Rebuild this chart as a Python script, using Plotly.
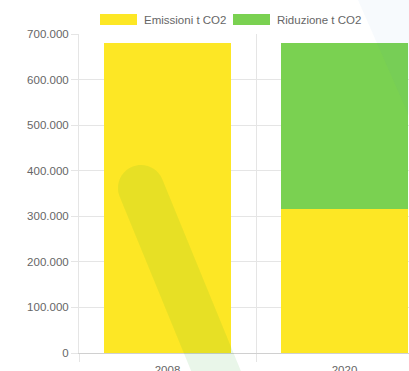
import numpy as np
import plotly.graph_objects as go

categories = ["2008", "2020"]
emissioni = [680000, 315000]
riduzione = [0, 365000]
series_names = ["Emissioni t CO2", "Riduzione t CO2"]
y_ticks = [0, 100000, 200000, 300000, 400000, 500000, 600000, 700000]

YELLOW = "#fde725"
GREEN = "#7ad151"
GRID = "#e5e5e5"
FONT = "Liberation Sans, Arial, sans-serif"

W, H = 409, 371
L, R, T, B = 79, 409, 34, 353  # plot area in pixels

fig = go.Figure()
fig.add_trace(go.Bar(x=categories, y=emissioni, name=series_names[0],
                     marker=dict(color=YELLOW, line=dict(width=0)), showlegend=False))
fig.add_trace(go.Bar(x=categories, y=riduzione, name=series_names[1],
                     marker=dict(color=GREEN, line=dict(width=0)), showlegend=False))

def px(x):
    return (x - L) / (R - L)

def py(y):
    return (B - y) / (B - T)

# decorative background watermark: rounded thick stroke
C = np.array([141.0, 188.0])
r = 23.0
d = np.array([0.41, 1.0]); d /= np.linalg.norm(d)
n = np.array([d[1], -d[0]])
E = C + d * ((440 - C[1]) / d[1])
k = 0.5523 * r
P0 = C - r * n
P1 = C - r * d
P2 = C + r * n
c1 = P0 - k * d
c2 = P1 - k * n
c3 = P1 + k * n
c4 = P2 - k * d
Q1 = E + r * n
Q2 = E - r * n

def pt(p):
    return f"{px(p[0]):.5f},{py(p[1]):.5f}"

path = (f"M {pt(P0)} C {pt(c1)} {pt(c2)} {pt(P1)} C {pt(c3)} {pt(c4)} {pt(P2)} "
        f"L {pt(Q1)} L {pt(Q2)} Z")

shapes = [
    dict(type="path", path=path, xref="paper", yref="paper",
         fillcolor="rgba(40,170,40,0.10)", line=dict(width=0), layer="above"),
    dict(type="path",
         path=f"M {pt((358,0))} L {pt((420,0))} L {pt((420,0 + (420-358)/0.44))} Z",
         xref="paper", yref="paper",
         fillcolor="rgba(60,130,220,0.045)", line=dict(width=0), layer="above"),
]

# custom legend (Chart.js-style wide boxes)
legend_items = [(100, YELLOW, series_names[0]), (233, GREEN, series_names[1])]
annotations = []
for x0, col, name in legend_items:
    shapes.append(dict(type="rect", xref="paper", yref="paper",
                       x0=px(x0), x1=px(x0 + 37), y0=py(25), y1=py(14),
                       fillcolor=col, line=dict(width=0)))
    annotations.append(dict(x=px(x0 + 42), y=py(19.5), xref="paper", yref="paper",
                            text=name, showarrow=False, xanchor="left", yanchor="middle",
                            font=dict(family=FONT, size=11.5, color="#666666")))

fig.update_layout(
    width=W, height=H,
    margin=dict(l=L, r=W - R, t=T, b=H - B, autoexpand=False),
    barmode="stack", bargap=0.28,
    paper_bgcolor="white", plot_bgcolor="white",
    separators=",.",
    font=dict(family=FONT, size=12, color="#666666"),
    shapes=shapes, annotations=annotations,
    showlegend=False,
    xaxis=dict(type="category", range=[-0.5, -0.5 + (R - L) / 177.0],
               tickson="boundaries", showgrid=True, gridcolor=GRID, gridwidth=1,
               ticks="outside", ticklen=8, tickcolor=GRID, ticklabelstandoff=6,
               automargin=False,
               showline=True, linecolor="#d0d0d0", linewidth=1,
               tickfont=dict(family=FONT, size=11.5, color="#666666"), zeroline=False),
    yaxis=dict(range=[0, 700000], tickvals=y_ticks, tickformat=",d",
               showgrid=True, gridcolor=GRID, gridwidth=1, automargin=False,
               ticks="outside", ticklen=7, tickcolor=GRID,
               showline=True, linecolor=GRID, linewidth=1, zeroline=False,
               tickfont=dict(family=FONT, size=11.5, color="#666666")),
)

fig.write_html("out.html", config={"displayModeBar": False},
               post_script="document.body.style.margin='0';document.body.style.overflow='hidden';")
